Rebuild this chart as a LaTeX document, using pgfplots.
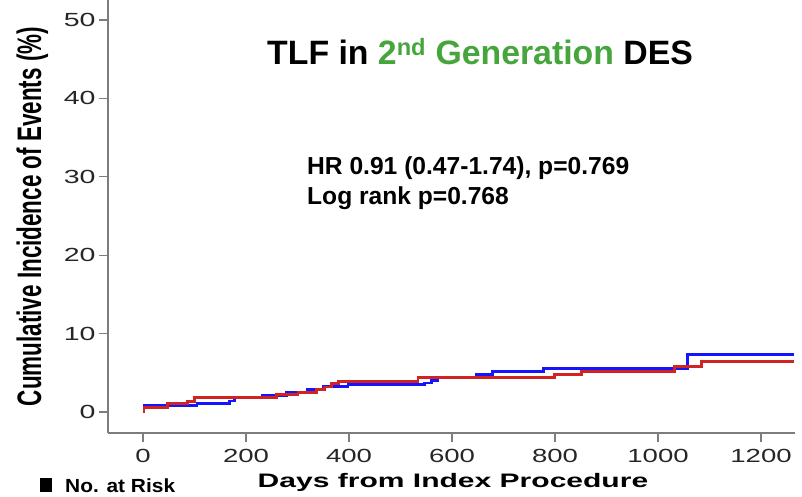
\documentclass[border=0pt]{standalone}
\usepackage{pgfplots}
\pgfplotsset{compat=1.18}
\usepackage{fontspec}
\setmainfont{Liberation Sans}
\definecolor{kmblue}{RGB}{20,20,255}
\definecolor{kmred}{RGB}{210,35,35}
\definecolor{tgreen}{RGB}{70,165,60}
\definecolor{axgray}{RGB}{125,125,125}
\begin{document}
\begin{tikzpicture}[x=1pt,y=1pt]
\path[use as bounding box] (0,0) rectangle (802,496);
\begin{axis}[
 at={(108pt,63pt)}, anchor=south west,
 scale only axis, width=687pt, height=433pt,
 xmin=-68, xmax=1266, ymin=-2.68, ymax=52.55,
 axis lines*=left, axis line style={axgray, line width=1.3pt},
 tick align=outside, major tick length=9pt, tick style={axgray,line width=1.3pt},
 xtick={0,200,...,1200}, ytick={0,10,...,50},
 minor tick num=0,
 /pgf/number format/assume math mode=true,
 /pgf/number format/1000 sep={},
 xticklabel={\scalebox{1.45}[1]{\pgfmathprintnumber{\tick}}},
 yticklabel={\scalebox{1.5}[1]{\pgfmathprintnumber{\tick}}},
 ticklabel style={font=\fontsize{19}{19}\selectfont, text=black!85},
 xticklabel style={yshift=-4pt},
 clip=false,
]
\addplot[const plot, kmblue, line width=2.8pt] coordinates {
(0,0) (2,0.85) (105,1.1) (168,1.4) (178,1.8) (231,2.15) (279,2.5) (320,2.9)
(350,3.3) (398,3.5) (547,3.7) (560,4.05) (572,4.4) (647,4.8) (679,5.2)
(777,5.5) (1057,7.3) (1265,7.3)};
\addplot[const plot, kmred, line width=2.8pt] coordinates {
(0,0) (2,0.6) (47,1.05) (87,1.35) (100,1.8) (259,2.25) (301,2.5) (337,2.9)
(353,3.2) (366,3.6) (379,3.9) (534,4.4) (799,4.8) (851,5.2) (1032,5.85)
(1084,6.4) (1265,6.4)};
\end{axis}
\node[anchor=base west, inner sep=0, font=\bfseries\fontsize{33.8}{33.8}\selectfont] at (267,431) {TLF in \textcolor{tgreen}{2\textsuperscript{nd} Generation} DES};
\node[anchor=base west, inner sep=0, font=\bfseries\fontsize{24.6}{24.6}\selectfont] at (307,321) {HR 0.91 (0.47-1.74), p=0.769};
\node[anchor=base west, inner sep=0, font=\bfseries\fontsize{24.6}{24.6}\selectfont] at (307,292) {Log rank p=0.768};
\node[rotate=90, anchor=base, inner sep=0, font=\bfseries\fontsize{34}{34}\selectfont] at (41,279.5) {\scalebox{0.66}[1]{Cumulative Incidence of Events (\%)}};
\node[anchor=base, inner sep=0, font=\bfseries\fontsize{19.5}{19.5}\selectfont] at (453,9) {\scalebox{1.54}[1]{Days from Index Procedure}};
\node[anchor=base west, inner sep=0, font=\bfseries\fontsize{19}{19}\selectfont] at (40,4) {\rule{12pt}{14pt}\hspace{13pt}\scalebox{1.1}[1]{No. at Risk}};
\end{tikzpicture}
\end{document}
